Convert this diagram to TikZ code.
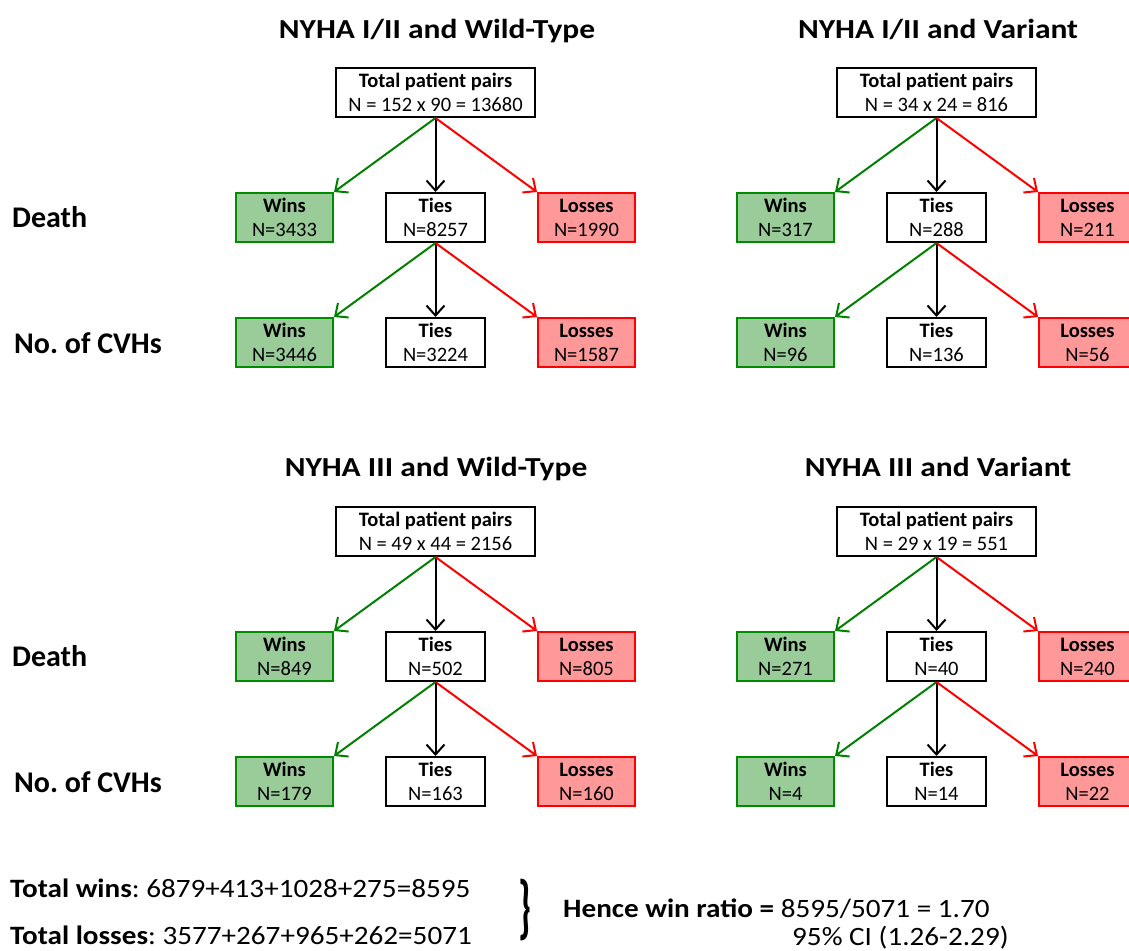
\documentclass[tikz,border=0pt]{standalone}
\usepackage{fontspec}
\setmainfont{Carlito}
\newfontfamily\titlefont{Carlito}[FakeStretch=1.145]
\newfontfamily\sumfont{Carlito}[FakeStretch=1.1]
\usetikzlibrary{arrows.meta}
\definecolor{wfill}{RGB}{153,204,153}
\definecolor{wline}{RGB}{0,140,0}
\definecolor{lfill}{RGB}{255,153,153}
\definecolor{lline}{RGB}{255,0,0}
\definecolor{agreen}{RGB}{0,128,0}
\frenchspacing
\tikzset{
 box/.style={draw,line width=2pt,minimum height=49pt,inner sep=0pt,align=center,font=\fontsize{20.5}{24}\selectfont},
 winbox/.style={box,draw=wline,fill=wfill,minimum width=97pt},
 tiebox/.style={box,draw=black,fill=white,minimum width=99pt},
 lossbox/.style={box,draw=lline,fill=lfill,minimum width=97pt},
 totbox/.style={box,draw=black,fill=white,minimum width=199pt,minimum height=49pt},
 arr/.style={line width=2pt,-{Straight Barb[length=10pt,width=18pt]}},
 titletext/.style={font=\titlefont\fontsize{27.5}{33}\selectfont\bfseries,inner sep=0pt,anchor=base},
 rowtext/.style={font=\fontsize{30}{36}\selectfont\bfseries,inner sep=0pt,anchor=base west},
 sumtext/.style={font=\sumfont\fontsize{26.5}{32}\selectfont,inner sep=0pt,anchor=base west}
}
\newcommand\mytree[9]{%
 \begin{scope}[shift={(#2)}]
  \node[totbox] (#1tot) at (0,25.5) {\textbf{Total patient pairs}\\N = #3};
  \node[winbox] (#1wa) at (-151,150.5) {\textbf{Wins}\\N=#4};
  \node[tiebox] (#1ta) at (0,150.5) {\textbf{Ties}\\N=#5};
  \node[lossbox] (#1la) at (151,150.5) {\textbf{Losses}\\N=#6};
  \node[winbox] (#1wb) at (-151,275.5) {\textbf{Wins}\\N=#7};
  \node[tiebox] (#1tb) at (0,275.5) {\textbf{Ties}\\N=#8};
  \node[lossbox] (#1lb) at (151,275.5) {\textbf{Losses}\\N=#9};
  \draw[arr,agreen] (#1tot.south) -- (#1wa.north east);
  \draw[arr,black] (#1tot.south) -- (#1ta.north);
  \draw[arr,lline] (#1tot.south) -- (#1la.north west);
  \draw[arr,agreen] (#1ta.south) -- (#1wb.north east);
  \draw[arr,black] (#1ta.south) -- (#1tb.north);
  \draw[arr,lline] (#1ta.south) -- (#1lb.north west);
 \end{scope}}
\begin{document}
\begin{tikzpicture}[x=1pt,y=-1pt]
\useasboundingbox (0,0) rectangle (1129,950);
\clip (0,0) rectangle (1129,950);
\node[titletext] (t1) at (437,38) {NYHA I/II and Wild-Type};
\node[titletext] (t2) at (938,38) {NYHA I/II and Variant};
\node[titletext] (t3) at (436,476) {NYHA III and Wild-Type};
\node[titletext] (t4) at (938,476) {NYHA III and Variant};
\node[rowtext] (r1) at (12,227.5) {Death};
\node[rowtext] (r2) at (14,353) {No. of CVHs};
\node[rowtext] (r3) at (12,666.5) {Death};
\node[rowtext] (r4) at (14,792) {No. of CVHs};
\mytree{A}{435.5,67}{152 x 90 = 13680}{3433}{8257}{1990}{3446}{3224}{1587}
\mytree{B}{936.5,67}{34 x 24 = 816}{317}{288}{211}{96}{136}{56}
\mytree{C}{435.5,506}{49 x 44 = 2156}{849}{502}{805}{179}{163}{160}
\mytree{D}{936.5,506}{29 x 19 = 551}{271}{40}{240}{4}{14}{22}
\node[sumtext] (tw) at (10,897) {\textbf{Total wins}: 6879+413+1028+275=8595};
\node[sumtext] (tl) at (10,944) {\textbf{Total losses}: 3577+267+965+262=5071};
\node[inner sep=0pt,yscale=1.85,font=\fontsize{38}{38}\selectfont\bfseries] (br) at (525,910) {\}};
\node[sumtext] (hr) at (563,917) {\textbf{Hence win ratio =} 8595/5071 = 1.70};
\node[sumtext] (ci) at (792,945) {95\% CI (1.26-2.29)};
\end{tikzpicture}
\end{document}
